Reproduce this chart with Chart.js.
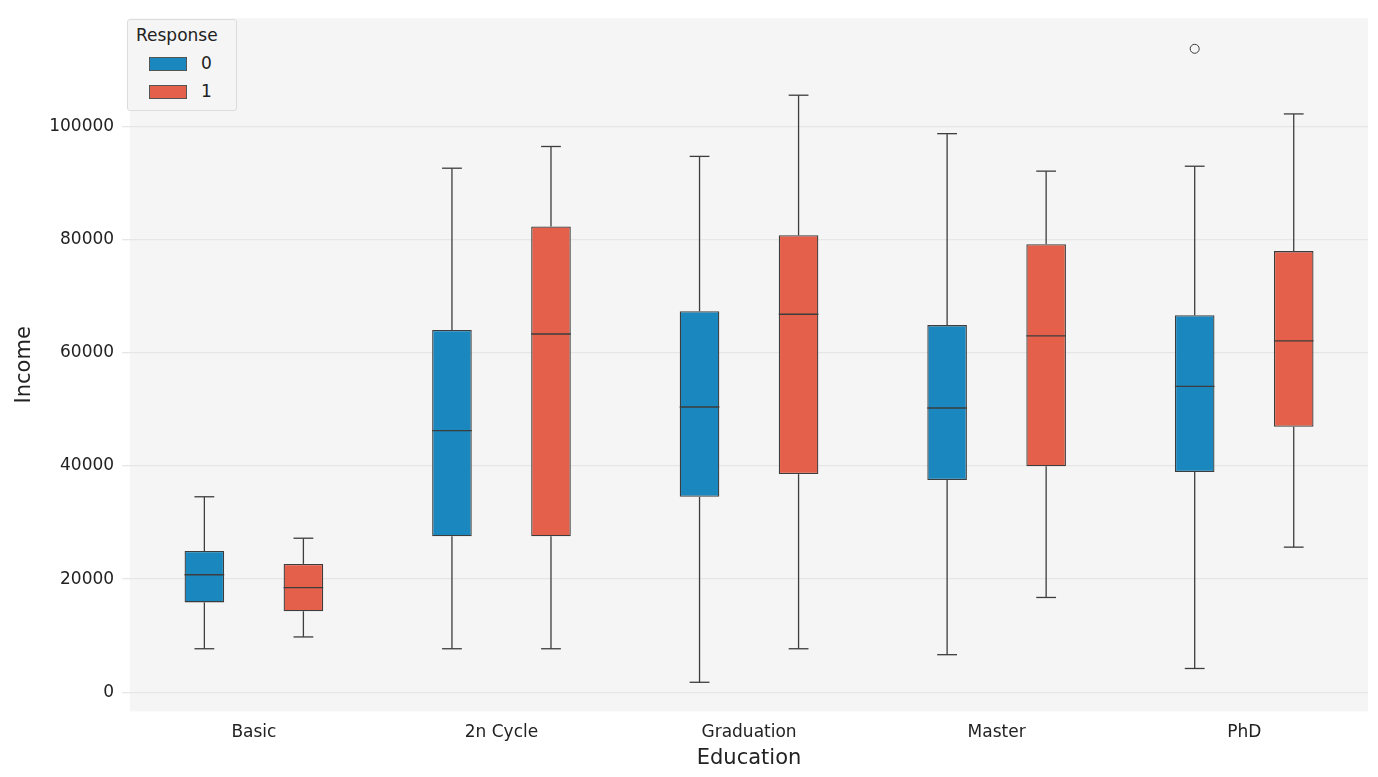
<!DOCTYPE html>
<html>
<head>
<script src="https://cdn.jsdelivr.net/npm/chart.js@4/dist/chart.umd.min.js"></script>
<style>
  body { margin: 0; background: #fff; font-family: "DejaVu Sans", sans-serif; }
  #wrap { position: relative; width: 1378px; height: 777px; }
  #legend { position: absolute; left: 127px; top: 19px; width: 110px; height: 92px; box-sizing: border-box;
    border: 1px solid #dcdcdc; border-radius: 3px; background: #f5f5f5; font-size: 17px; color: #222; }
  #legend .t { position: absolute; left: 8px; top: 5px; }
  #legend .r { position: absolute; left: 21px; }
  #legend .sw { display: inline-block; width: 38px; height: 14px; vertical-align: middle; margin-right: 14px; border: 1px solid #555; box-sizing: border-box; }
</style>
</head>
<body>
<div id="wrap">
  <canvas id="box-chart" width="1378" height="777"></canvas>
  <div id="legend">
    <span class="t">Response</span>
    <span class="r" style="top:33px"><span class="sw" style="background:#1a87be"></span>0</span>
    <span class="r" style="top:61px"><span class="sw" style="background:#e5604a"></span>1</span>
  </div>
</div>
<script>
const categories = ["Basic", "2n Cycle", "Graduation", "Master", "PhD"];

// response 0
const r0_low = [7680, 7680, 1750, 6630, 4190];
const r0_q1 = [15880, 27570, 34550, 37520, 38920];
const r0_med = [20770, 46250, 50440, 50260, 54100];
const r0_q3 = [24960, 64050, 67370, 64920, 66670];
const r0_high = [34560, 92670, 94760, 98780, 93020];
const r0_mean = [20420, 46600, 50610, 51480, 53580];

// response 1
const r1_low = [9770, 7680, 7680, 16750, 25650];
const r1_q1 = [14310, 27570, 38570, 39970, 46950];
const r1_med = [18500, 63350, 66840, 63000, 62130];
const r1_q3 = [22690, 82370, 80800, 79230, 78010];
const r1_high = [27230, 96510, 105580, 92150, 102270];
const r1_mean = [18500, 55850, 60910, 59160, 61430];

const outliers = [{ cat: 4, resp: 0, value: 113790 }];

const blue = "#1a87be";
const red = "#e5604a";
const edge = "#3d3d3d";
const offset = 0.2;

const stats = [
  { low: r0_low, med: r0_med, high: r0_high, q1: r0_q1, q3: r0_q3 },
  { low: r1_low, med: r1_med, high: r1_high, q1: r1_q1, q3: r1_q3 }
];

// background of the plot area
const plotBg = {
  id: "plotBg",
  beforeDraw(chart) {
    const a = chart.chartArea, ctx = chart.ctx;
    ctx.save();
    ctx.fillStyle = "#f5f5f5";
    ctx.fillRect(a.left, a.top, a.right - a.left, a.bottom - a.top);
    ctx.restore();
  }
};

// whiskers, caps and medians, placed on the bar elements
const whiskers = {
  id: "whiskers",
  afterDatasetsDraw(chart) {
    const ctx = chart.ctx, y = chart.scales.y;
    ctx.save();
    ctx.strokeStyle = edge;
    ctx.lineWidth = 1.3;
    const line = (x1, y1, x2, y2) => { ctx.beginPath(); ctx.moveTo(x1, y1); ctx.lineTo(x2, y2); ctx.stroke(); };
    stats.forEach((s, di) => {
      chart.getDatasetMeta(di).data.forEach((bar, i) => {
        const cx = bar.x, hw = bar.width / 2;
        const p = v => y.getPixelForValue(v);
        line(cx, p(s.q3[i]), cx, p(s.high[i]));
        line(cx, p(s.q1[i]), cx, p(s.low[i]));
        line(cx - hw / 2, p(s.high[i]), cx + hw / 2, p(s.high[i]));
        line(cx - hw / 2, p(s.low[i]), cx + hw / 2, p(s.low[i]));
        line(cx - hw, p(s.med[i]), cx + hw, p(s.med[i]));
      });
    });
    ctx.restore();
  }
};

const boxStyle = { borderColor: edge, borderWidth: 1.3, borderSkipped: false, grouped: false, categoryPercentage: 0.4, barPercentage: 1 };
const meanStyle = { type: "scatter", pointStyle: "triangle", radius: 5, backgroundColor: "#e8b030", borderColor: "#e8b030" };

new Chart(document.getElementById("box-chart"), {
  type: "bar",
  data: {
    datasets: [
      Object.assign({ label: "0", data: r0_q1.map((v, i) => ({ x: i - offset, y: [v, r0_q3[i]] })), backgroundColor: blue }, boxStyle),
      Object.assign({ label: "1", data: r1_q1.map((v, i) => ({ x: i + offset, y: [v, r1_q3[i]] })), backgroundColor: red }, boxStyle),
      Object.assign({ data: r0_mean.map((v, i) => ({ x: i - offset, y: v })) }, meanStyle),
      Object.assign({ data: r1_mean.map((v, i) => ({ x: i + offset, y: v })) }, meanStyle),
      { type: "scatter", data: outliers.map(o => ({ x: o.cat + (o.resp ? offset : -offset), y: o.value })), pointStyle: "circle", radius: 4.5, backgroundColor: "rgba(0,0,0,0)", borderColor: edge, borderWidth: 1 }
    ]
  },
  options: {
    responsive: false,
    animation: false,
    layout: { padding: { top: 2, right: 10, left: 8, bottom: 6 } },
    plugins: { legend: { display: false }, tooltip: { enabled: false } },
    scales: {
      x: {
        type: "linear", min: -0.5, max: 4.5, offset: false,
        grid: { display: false },
        border: { display: false },
        afterBuildTicks(axis) { axis.ticks = categories.map((c, i) => ({ value: i })); },
        ticks: { color: "#222", font: { size: 17, family: "DejaVu Sans" }, callback: v => categories[v] },
        title: { display: true, text: "Education", color: "#222", font: { size: 21, family: "DejaVu Sans" }, padding: 0 }
      },
      y: {
        min: -3400, max: 119200,
        grid: { color: "#e6e6e6", lineWidth: 1.3 },
        border: { display: false },
        afterBuildTicks(axis) { axis.ticks = [0, 20000, 40000, 60000, 80000, 100000].map(v => ({ value: v })); },
        ticks: { color: "#222", font: { size: 17, family: "DejaVu Sans" }, padding: 8, callback: v => String(v) },
        title: { display: true, text: "Income", color: "#222", font: { size: 21, family: "DejaVu Sans" }, padding: 4 }
      }
    }
  },
  plugins: [plotBg, whiskers]
});
</script>
</body>
</html>
